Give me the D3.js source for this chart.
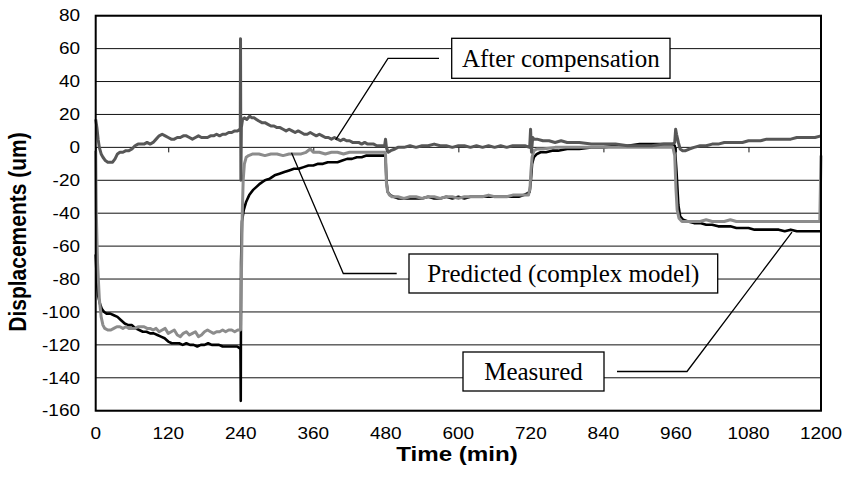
<!DOCTYPE html>
<html>
<head>
<meta charset="utf-8">
<script src="https://cdn.jsdelivr.net/npm/d3@7"></script>
<style>
  body { margin: 0; background: #fff; }
  .sans { font-family: "Liberation Sans", Arial, sans-serif; }
  .serif { font-family: "Liberation Serif", "Times New Roman", serif; }
</style>
</head>
<body>
<svg id="chart" width="845" height="482"></svg>
<script>
// Displacement records, [time in min, displacement in um]
const measured = [[0,-65],[2,-82],[4,-90],[7,-95],[10,-98],[14,-100],[18,-101],[24,-101],[30,-102],[36,-103],[42,-105],[48,-107],[54,-108],[60,-108],[66,-110],[72,-111],[78,-112],[84,-112],[90,-113],[96,-113],[102,-114],[108,-115],[114,-116],[120,-118],[126,-119],[132,-119],[138,-119],[144,-120],[150,-119],[156,-120],[162,-120],[168,-121],[174,-120],[180,-120],[186,-119],[192,-120],[198,-120],[204,-120],[210,-121],[216,-121],[222,-121],[228,-121],[234,-121],[238,-122],[239.5,-122],[240,-154],[240.5,-70],[242,-45],[245,-38],[249,-33],[254,-29],[260,-26],[266,-24],[272,-22],[280,-20],[288,-19],[296,-17],[304,-16],[312,-15],[320,-14],[328,-13],[336,-13],[344,-12],[352,-11],[360,-11],[368,-10],[376,-10],[384,-9],[392,-9],[400,-9],[408,-8],[416,-7],[424,-7],[432,-6],[440,-6],[448,-5],[456,-5],[464,-5],[472,-5],[478,-5],[479.5,-6],[481,-20],[483,-27],[487,-29],[493,-30],[500,-31],[510,-31],[520,-31],[530,-31],[540,-31],[550,-30],[560,-31],[570,-31],[580,-30],[590,-31],[600,-30],[610,-31],[620,-30],[630,-30],[640,-30],[650,-30],[660,-30],[670,-30],[680,-30],[690,-30],[700,-30],[708,-29],[714,-28],[718,-27],[720,-20],[722,-10],[725,-6],[730,-4],[736,-3],[745,-3],[755,-2],[765,-2],[780,-1],[800,-1],[820,0],[840,0],[860,1],[880,1],[900,2],[920,2],[940,2],[955,2],[958,1],[961,-15],[964,-35],[967,-42],[972,-44],[980,-45],[990,-46],[1000,-46],[1010,-47],[1020,-47],[1030,-48],[1040,-48],[1050,-48],[1060,-49],[1070,-49],[1080,-49],[1090,-50],[1100,-50],[1110,-50],[1120,-50],[1130,-50],[1140,-51],[1150,-50],[1160,-51],[1170,-51],[1180,-51],[1190,-51],[1200,-51]];

const predicted = [[0,-2],[1,-40],[3,-70],[6,-92],[9,-103],[12,-108],[15,-110],[20,-111],[25,-111],[30,-110],[35,-109],[40,-109],[45,-110],[50,-109],[55,-110],[60,-110],[65,-110],[70,-109],[75,-109],[80,-109],[85,-110],[90,-110],[95,-111],[100,-110],[105,-112],[110,-111],[115,-110],[120,-113],[125,-112],[130,-111],[135,-114],[140,-115],[145,-113],[150,-112],[155,-114],[160,-113],[165,-112],[170,-115],[175,-114],[180,-112],[185,-111],[190,-112],[195,-113],[200,-112],[205,-112],[210,-111],[215,-112],[220,-111],[225,-111],[230,-112],[235,-111],[239.5,-111],[241,-80],[242.5,-40],[244,-20],[246,-10],[249,-6],[253,-5],[260,-4],[270,-4],[280,-5],[290,-4],[300,-4],[310,-5],[320,-4],[330,-4],[340,-4],[348,-3],[355,-1],[360,-3],[370,-3],[380,-4],[390,-3],[400,-3],[410,-4],[420,-3],[430,-3],[440,-3],[450,-3],[460,-3],[470,-3],[478,-3],[479.5,-4],[481,-22],[483,-27],[486,-29],[490,-30],[500,-30],[510,-31],[520,-30],[530,-30],[540,-31],[550,-30],[560,-30],[570,-31],[580,-30],[590,-30],[600,-31],[610,-30],[620,-30],[630,-30],[640,-30],[650,-29],[660,-30],[670,-30],[680,-30],[690,-29],[700,-29],[710,-29],[716,-29],[718.5,-25],[720,-15],[722,-6],[725,-2],[730,-1],[740,-1],[760,0],[780,0],[800,0],[820,0],[840,0],[860,0],[880,0],[900,0],[920,0],[940,0],[955,0],[958,-5],[960,-25],[962,-38],[965,-43],[970,-45],[980,-45],[990,-45],[1000,-45],[1010,-44],[1020,-45],[1030,-45],[1040,-45],[1050,-44],[1060,-45],[1070,-45],[1080,-45],[1090,-45],[1100,-45],[1110,-45],[1120,-45],[1130,-45],[1140,-45],[1150,-45],[1160,-45],[1170,-45],[1180,-45],[1190,-45],[1198,-45],[1200,-5]];

const compensated = [[0,17],[2,12],[4,5],[6,0],[9,-4],[12,-6],[16,-8],[20,-9],[24,-9],[28,-9],[32,-7],[36,-4],[40,-3],[45,-3],[50,-2],[55,-2],[60,-1],[65,1],[70,2],[75,2],[80,2],[85,3],[90,2],[95,3],[100,5],[105,7],[110,8],[115,7],[120,6],[125,5],[130,5],[135,6],[140,6],[145,7],[150,7],[155,6],[160,5],[165,6],[170,7],[175,6],[180,6],[185,6],[190,7],[195,7],[200,8],[205,7],[210,8],[215,8],[220,9],[225,9],[230,10],[235,10],[238,11],[239.2,10],[239.6,66],[240.2,-20],[241,12],[243,17],[246,18],[250,17],[255,19],[258,18],[262,18],[266,17],[270,16],[275,15],[280,15],[285,14],[290,13],[295,13],[300,12],[305,12],[310,11],[315,10],[320,11],[325,10],[330,9],[335,10],[340,9],[345,8],[350,8],[355,9],[360,8],[365,7],[370,8],[375,7],[380,6],[385,6],[390,5],[395,6],[400,5],[405,4],[410,5],[415,4],[420,4],[425,3],[430,3],[435,3],[440,2],[445,3],[450,2],[455,2],[460,2],[465,1],[470,1],[475,1],[478,1],[479.5,5],[481,0],[484,-3],[488,-2],[495,-1],[500,0],[510,0],[520,1],[530,0],[540,1],[550,1],[560,2],[570,1],[580,1],[590,0],[600,1],[610,1],[620,0],[630,1],[640,0],[650,1],[660,0],[670,1],[680,0],[690,1],[700,1],[710,1],[718,0],[719.5,11],[721,-3],[723,6],[725,5],[730,5],[740,4],[750,4],[760,3],[770,4],[780,3],[790,3],[800,3],[820,2],[840,2],[860,2],[880,1],[900,1],[920,1],[940,2],[955,2],[958,3],[959.5,11],[961,8],[964,3],[967,-1],[971,-2],[976,-2],[982,-1],[990,0],[1000,1],[1010,1],[1020,2],[1030,2],[1040,3],[1050,3],[1060,3],[1070,3],[1080,4],[1090,4],[1100,4],[1110,5],[1120,5],[1130,5],[1140,5],[1150,5],[1160,6],[1170,6],[1180,6],[1190,6],[1200,7]];

const xTicks = [0, 120, 240, 360, 480, 600, 720, 840, 960, 1080, 1200];
const yTicks = [-160, -140, -120, -100, -80, -60, -40, -20, 0, 20, 40, 60, 80];

const calloutLabels = ["After compensation", "Predicted (complex model)", "Measured"];
// point on each curve that the callout leader points at [min, um]
const calloutTargets = [[397, 4.5], [324, -3.3], [1152, -51.5]];

const svg = d3.select("#chart");

const plot = { left: 95.7, right: 821, top: 15.7, bottom: 410.7 };
const x = d3.scaleLinear().domain([0, 1200]).range([plot.left, plot.right]);
const y = d3.scaleLinear().domain([-160, 80]).range([plot.bottom, plot.top]);

const textStretch = 1.15;

// horizontal gridlines
svg.append("g")
  .selectAll("line")
  .data(yTicks)
  .join("line")
  .attr("x1", plot.left).attr("x2", plot.right)
  .attr("y1", d => y(d)).attr("y2", d => y(d))
  .attr("stroke", "#111").attr("stroke-width", 1);

// horizontal axis line crossing at zero, with tick marks below it
const xAxis = d3.axisBottom(x).tickValues(xTicks).tickSize(5).tickFormat("");
svg.append("g")
  .attr("transform", `translate(0,${y(0)})`)
  .call(xAxis)
  .call(g => g.select(".domain").remove())
  .call(g => g.selectAll(".tick line").attr("stroke", "#111"));

// tick labels
svg.append("g")
  .attr("class", "sans")
  .selectAll("text")
  .data(yTicks)
  .join("text")
  .attr("transform", d => `translate(80,${y(d)}) scale(${textStretch},1)`)
  .attr("dy", "0.35em")
  .attr("text-anchor", "end")
  .attr("font-size", 16.5)
  .text(d => d);

svg.append("g")
  .attr("class", "sans")
  .selectAll("text")
  .data(xTicks)
  .join("text")
  .attr("transform", d => `translate(${x(d)},438.5) scale(${textStretch},1)`)
  .attr("text-anchor", "middle")
  .attr("font-size", 16.5)
  .text(d => d);

// axis titles
svg.append("text")
  .attr("class", "sans")
  .attr("transform", `translate(457,461) scale(${textStretch},1)`)
  .attr("text-anchor", "middle")
  .attr("font-size", 21)
  .attr("font-weight", "bold")
  .text("Time (min)");

svg.append("text")
  .attr("class", "sans")
  .attr("transform", `translate(25.5,232) rotate(-90) scale(1,${textStretch})`)
  .attr("text-anchor", "middle")
  .attr("font-size", 21)
  .attr("font-weight", "bold")
  .text("Displacements (um)");

// series
const line = d3.line().x(d => x(d[0])).y(d => y(d[1]));
const series = [
  { data: measured, color: "#000000", width: 2.6 },
  { data: predicted, color: "#8c8c8c", width: 3 },
  { data: compensated, color: "#575757", width: 3 }
];
svg.append("g")
  .selectAll("path")
  .data(series)
  .join("path")
  .attr("d", d => line(d.data))
  .attr("fill", "none")
  .attr("stroke", d => d.color)
  .attr("stroke-width", d => d.width)
  .attr("stroke-linejoin", "round");

// plot frame
svg.append("rect")
  .attr("x", plot.left).attr("y", plot.top)
  .attr("width", plot.right - plot.left).attr("height", plot.bottom - plot.top)
  .attr("fill", "none").attr("stroke", "#000").attr("stroke-width", 2);

// callouts: box, elbow and leader to the curve
const boxes = [
  { x0: 451.7, x1: 670, y0: 38.3, y1: 78.3, elbowX: 388, lineEnd: 439 },
  { x0: 409, x1: 717.7, y0: 254, y1: 293, elbowX: 343.3, lineEnd: 396.7 },
  { x0: 463, x1: 604, y0: 352, y1: 391, elbowX: 687, lineEnd: 617 }
];
const callouts = svg.append("g");
calloutLabels.forEach((label, i) => {
  const b = boxes[i];
  const cy = (b.y0 + b.y1) / 2;
  const t = calloutTargets[i];
  callouts.append("polyline")
    .attr("points", [[b.lineEnd, cy], [b.elbowX, cy], [x(t[0]), y(t[1])]].map(p => p.join(",")).join(" "))
    .attr("fill", "none").attr("stroke", "#000").attr("stroke-width", 1.3);
  callouts.append("rect")
    .attr("x", b.x0).attr("y", b.y0)
    .attr("width", b.x1 - b.x0).attr("height", b.y1 - b.y0)
    .attr("fill", "#fff").attr("stroke", "#000").attr("stroke-width", 1.3);
  callouts.append("text")
    .attr("class", "serif")
    .attr("x", (b.x0 + b.x1) / 2).attr("y", cy + 8.5)
    .attr("text-anchor", "middle")
    .attr("font-size", 25)
    .text(label);
});
</script>
</body>
</html>
